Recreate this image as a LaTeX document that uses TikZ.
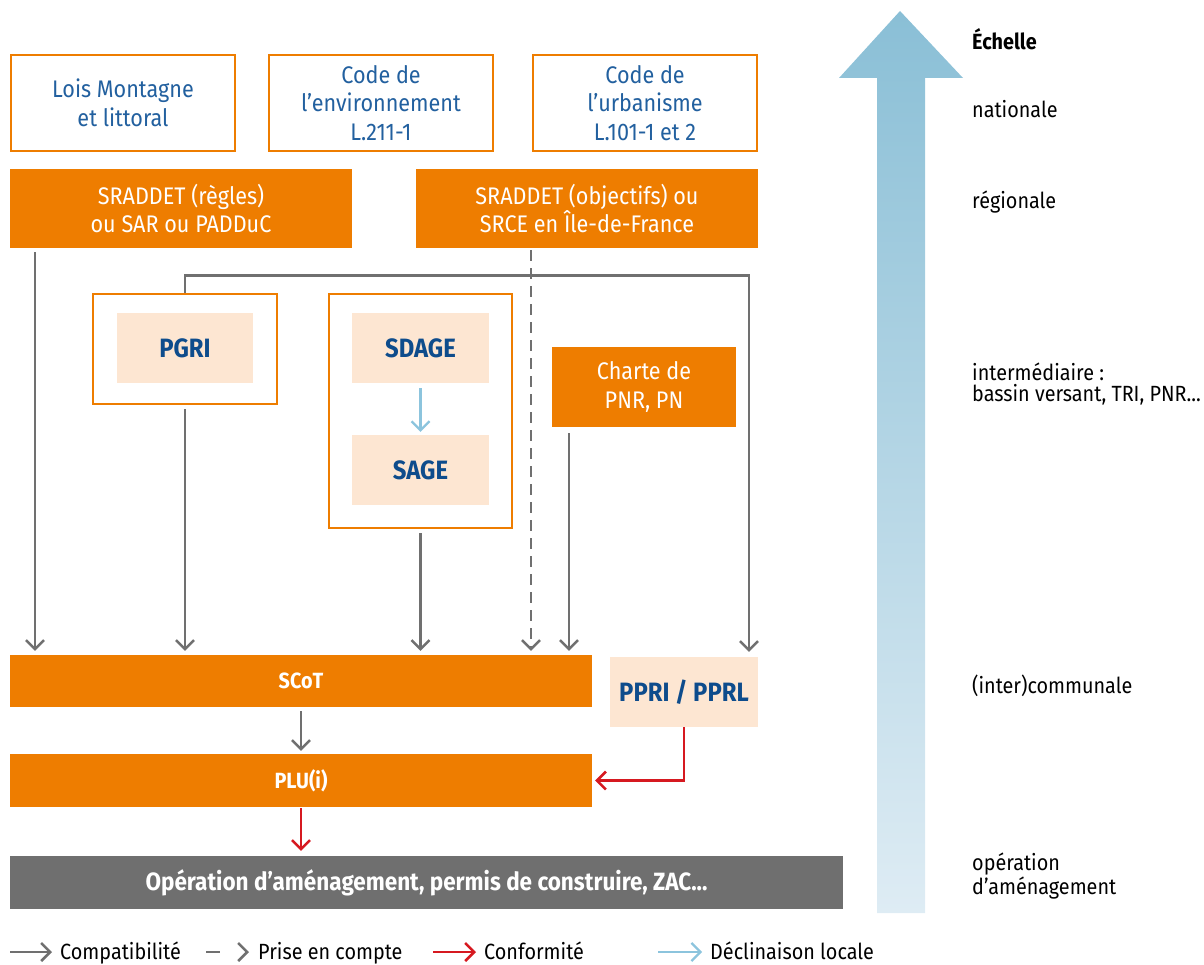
\documentclass[tikz,border=0pt]{standalone}
\usepackage{fontspec}
\setmainfont[FakeStretch=0.9]{Fira Sans}
\usepackage{tikz}
\usetikzlibrary{arrows.meta}
\definecolor{orng}{HTML}{EE7D00}
\definecolor{peach}{HTML}{FDE6D2}
\definecolor{txtblue}{HTML}{22609F}
\definecolor{darkblue}{HTML}{0E4C8C}
\definecolor{linegray}{HTML}{707070}
\definecolor{confred}{HTML}{D61920}
\definecolor{declblue}{HTML}{8CC4DD}
\definecolor{opgray}{HTML}{6F6F6F}
\definecolor{arrtop}{HTML}{8ABFD6}
\definecolor{arrbot}{HTML}{DEECF4}

\begin{document}
\begin{tikzpicture}[x=1pt, y=-1pt,
    box/.style={draw=orng, line width=2.5pt, fill=white, text=txtblue, minimum width=224pt, minimum height=96pt, inner sep=0pt, align=center, font=\fontsize{24}{28.5}\selectfont},
    obox/.style={fill=orng, text=white, inner sep=0pt, align=center, font=\fontsize{24}{28.5}\selectfont},
    grpbox/.style={draw=orng, line width=2.5pt, inner sep=0pt},
    pbox/.style={fill=peach, text=darkblue, inner sep=0pt, font=\bfseries\fontsize{26.5}{28}\selectfont},
    wbold/.style={fill=orng, text=white, inner sep=0pt, minimum width=582pt, font=\bfseries\fontsize{22}{26}\selectfont},
    lbl/.style={inner sep=0pt, align=left, font=\fontsize{22}{21}\selectfont},
    tip/.style={-{Straight Barb[length=9pt, width=18pt]}},
    comp/.style={draw=linegray, line width=2.5pt, tip},
    prise/.style={comp, dash pattern=on 11pt off 7pt},
    conf/.style={draw=confred, line width=2.5pt, tip},
    decl/.style={draw=declblue, line width=2.2pt, tip}]
  \useasboundingbox (0,0) rectangle (1204,965);
  \shade[top color=arrtop, bottom color=arrbot] (877,913) -- (877,78) -- (839,78) -- (900,11) -- (963,78) -- (925,78) -- (925,913) -- cycle;

  \node[box] (lois) at (123,103) {Lois Montagne\\et littoral};
  \node[box] (env) at (381,103) {Code de\\l’environnement\\L.211-1};
  \node[box] (urb) at (645,103) {Code de\\l’urbanisme\\L.101-1 et 2};
  \node[obox, minimum width=342pt, minimum height=79pt] (srg) at (181,208.5) {SRADDET (règles)\\ou SAR ou PADDuC};
  \node[obox, minimum width=342pt, minimum height=79pt] (sob) at (587,208.5) {SRADDET (objectifs) ou\\SRCE en Île-de-France};
  \node[grpbox, minimum width=184pt, minimum height=110pt] (pgribox) at (185,349) {};
  \node[pbox, minimum width=136pt, minimum height=70pt] (pgri) at (185,348) {PGRI};
  \node[grpbox, minimum width=183pt, minimum height=234pt] (sdagebox) at (420.5,411) {};
  \node[pbox, minimum width=137pt, minimum height=70pt] (sdage) at (420.5,348) {SDAGE};
  \node[pbox, minimum width=137pt, minimum height=70pt] (sage) at (420.5,470) {SAGE};
  \node[obox, minimum width=184pt, minimum height=80pt] (charte) at (644,387) {Charte de\\PNR, PN};
  \node[wbold, minimum height=52pt] (scot) at (301,681) {SCoT};
  \node[pbox, minimum width=148pt, minimum height=70pt] (ppri) at (684,692) {PPRI / PPRL};
  \node[wbold, minimum height=53pt] (plu) at (301,780.5) {PLU(i)};
  \node[wbold, fill=opgray, minimum width=833pt, minimum height=53pt, font=\bfseries\fontsize{25}{26}\selectfont] (op) at (426.5,882.5) {Opération d’aménagement, permis de construire, ZAC...};

  \draw[comp, shorten <=4pt, shorten >=4pt] ([xshift=-146pt]srg.south) -- ([xshift=-146pt]srg.south |- scot.north);
  \draw[comp, shorten <=4pt, shorten >=4pt] (pgribox.south) -- (pgribox.south |- scot.north);
  \draw[comp, shorten <=4pt, shorten >=4pt] (sdagebox.south) -- (sdagebox.south |- scot.north);
  \draw[prise, shorten <=2pt, shorten >=4pt] ([xshift=-56pt]sob.south) -- ([xshift=-56pt]sob.south |- scot.north);
  \draw[comp, shorten <=6pt, shorten >=4pt] ([xshift=-75pt]charte.south) -- ([xshift=-75pt]charte.south |- scot.north);
  \draw[comp, shorten >=5pt] (pgribox.north) -- ++(0,-17) -| ([xshift=65pt]ppri.north);
  \draw[decl, shorten <=5pt, shorten >=3pt] (sdage) -- (sage);
  \draw[comp, shorten <=4pt, shorten >=3pt] (scot) -- (plu);
  \draw[conf, shorten >=3pt] (ppri.south) |- (plu.east);
  \draw[conf, shorten <=1pt, shorten >=5pt] (plu.south) -- (plu.south |- op.north);

  \node[lbl, anchor=base west, font=\bfseries\fontsize{22}{21}\selectfont] (echelle) at (972,50) {Échelle};
  \node[lbl, anchor=base west] (nat) at (972,118) {nationale};
  \node[lbl, anchor=base west] (reg) at (972,209) {régionale};
  \node[lbl, anchor=west] (inter) at (972,384) {intermédiaire :\\bassin versant, TRI, PNR...};
  \node[lbl, anchor=base west] (comm) at (972,693) {(inter)communale};
  \node[lbl, anchor=west] (oper) at (972,876) {opération\\d’aménagement};

  \coordinate (l1) at (10,952);
  \coordinate (l2) at (206,952);
  \coordinate (l3) at (433,952);
  \coordinate (l4) at (658,952);
  \node[lbl, anchor=base west] (lgcomp) at (60,959) {Compatibilité};
  \node[lbl, anchor=base west] (lgprise) at (258,959) {Prise en compte};
  \node[lbl, anchor=base west] (lgconf) at (484,959) {Conformité};
  \node[lbl, anchor=base west] (lgdecl) at (710,959) {Déclinaison locale};
  \draw[comp, shorten >=8pt] (l1) -- (l1 -| lgcomp.west);
  \draw[comp, dash pattern=on 14pt off 30pt, shorten >=9pt] (l2) -- (l2 -| lgprise.west);
  \draw[conf, shorten >=8pt] (l3) -- (l3 -| lgconf.west);
  \draw[decl, shorten >=8pt] (l4) -- (l4 -| lgdecl.west);
\end{tikzpicture}
\end{document}
